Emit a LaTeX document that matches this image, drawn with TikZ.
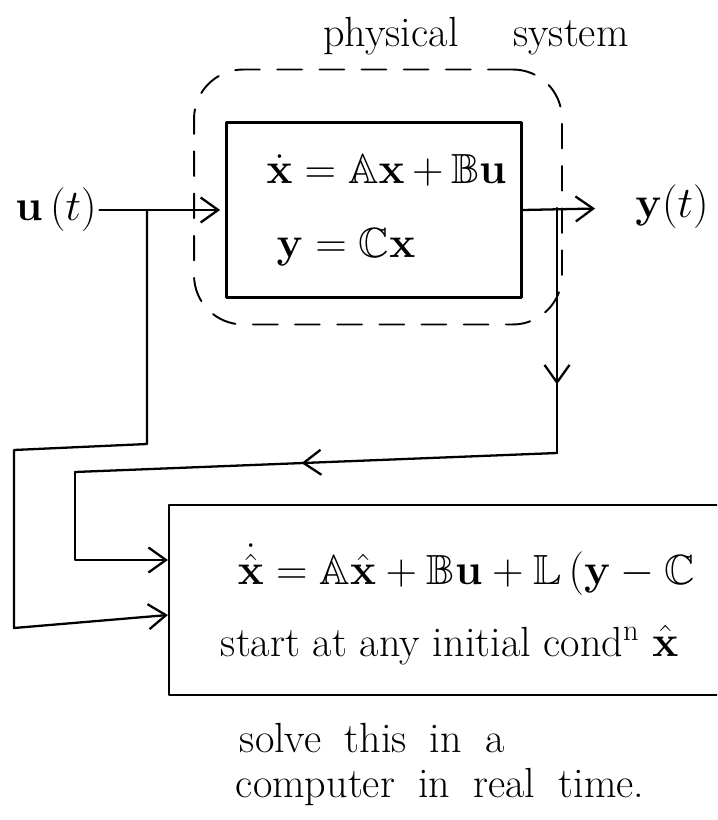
\documentclass[tikz,border=0pt]{standalone}
\usepackage{amsmath,amssymb}
\usetikzlibrary{arrows.meta, decorations.markings}
\newcommand\widespace{\spaceskip=0.55em plus 0.1em\relax}

\begin{document}
\begin{tikzpicture}[
   x=0.02cm, y=-0.02cm,
   font=\fontsize{24}{29}\selectfont,
   line width=1.3pt, line join=round, line cap=round,
   blk/.style={rectangle, draw, line width=1.3pt, inner sep=0pt},
   sys/.style={rectangle, rounded corners=28pt, draw,
               dash pattern=on 14pt off 10pt, line width=1.1pt},
   hand/.style={inner sep=1pt},
   wide/.style={inner sep=1pt, font=\fontsize{24}{29}\selectfont\widespace},
   arr/.style={-{Straight Barb[length=3.5mm, width=5mm]}},
   midarr/.style={postaction={decorate},
      decoration={markings, mark=at position #1 with
         {\arrow{Straight Barb[length=3.5mm, width=5mm]}}}}]
 \useasboundingbox (0,0) rectangle (717,820);
 \clip (0,0) rectangle (717,820);

 % plant
 \node[hand] (title) at (476,36) {physical\hspace{1.3em}system};
 \node[sys, minimum width=7.36cm, minimum height=5.1cm] (phys) at (378,197) {};
 \node[blk, minimum width=5.9cm, minimum height=3.5cm, align=left,
       text width=5.3cm] (plant) at (374,210)
   {\hspace{0.5cm}$\dot{\mathbf{x}} = \mathbb{A}\mathbf{x} + \mathbb{B}\mathbf{u}$\\[0.45cm]
    \hspace{0.7cm}$\mathbf{y} = \mathbb{C}\mathbf{x}$};
 \node[hand] (u) at (56,210) {$\mathbf{u}\,(t)$};
 \node[hand] (y) at (672,207) {$\mathbf{y}(t)$};

 % observer
 \node[blk, minimum width=11.82cm, minimum height=3.8cm] (obs) at (464.5,600) {};
 \node[hand, anchor=west] (obseq) at (235,570)
   {$\dot{\hat{\mathbf{x}}} = \mathbb{A}\hat{\mathbf{x}} + \mathbb{B}\mathbf{u}
     + \mathbb{L}\,(\mathbf{y} - \mathbb{C}$};
 \node[hand, anchor=west] (ic) at (218,645)
   {start at any initial cond$^{\mathrm{n}}$ $\hat{\mathbf{x}}$};
 \node[wide, anchor=west] (note1) at (237,738) {solve this in a};
 \node[wide, anchor=west] (note2) at (233,787) {computer in real time.};

 % branch points and corners
 \coordinate (ub)   at (147,210);
 \coordinate (ulow) at (147,444);
 \coordinate (lft)  at (14,450);
 \coordinate (lbot) at (14,628);
 \coordinate (uin)  at (obs.west |- 0,615);
 \coordinate (yb)   at (557,208);
 \coordinate (ylow) at (557,453);
 \coordinate (fbl)  at (75,472);
 \coordinate (yin)  at (obs.west |- 0,560);

 \draw[arr, shorten >=3pt] (u.east) -- (plant.west);
 \draw[arr, shorten >=0.75cm] (plant.east) -- (y);
 \draw[arr] (ub) -- (ulow) -- (lft) -- (lbot) -- (uin);
 \draw[midarr=0.72] (yb) -- (ylow);
 \draw[midarr=0.53] (ylow) -- (fbl);
 \draw[arr] (fbl) |- (yin);
\end{tikzpicture}
\end{document}
